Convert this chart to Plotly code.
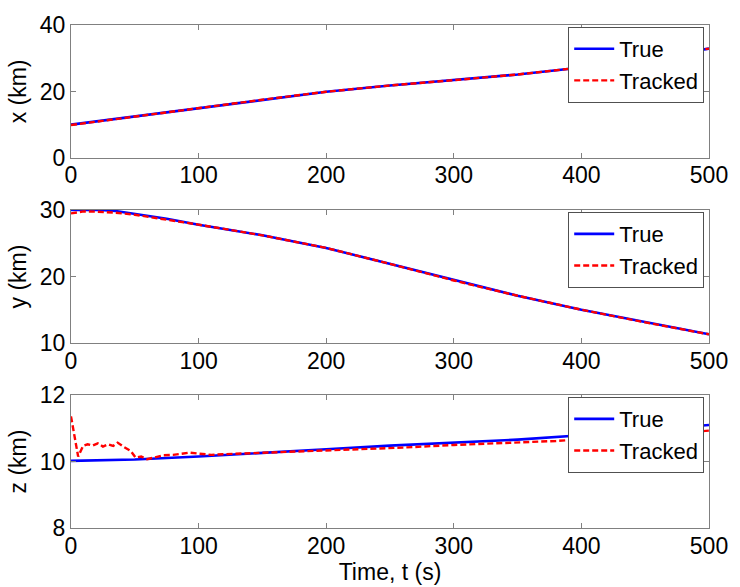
import plotly.graph_objects as go

# ---- data ----
t_x = [0, 50, 100, 150, 200, 250, 300, 350, 400, 450, 500]
x_true = [10.0, 12.5, 15.0, 17.5, 19.9, 21.8, 23.4, 25.1, 27.2, 29.9, 32.9]
x_tracked = [9.9, 12.5, 15.0, 17.5, 19.9, 21.8, 23.4, 25.1, 27.2, 29.9, 32.9]

t_y = [0, 10, 20, 35, 50, 75, 100, 150, 200, 250, 300, 350, 400, 450, 500]
y_true = [30.0, 30.05, 30.05, 29.85, 29.45, 28.7, 27.8, 26.2, 24.3, 21.9, 19.4, 17.1, 15.0, 13.1, 11.3]
y_tracked = [29.5, 29.8, 29.75, 29.6, 29.3, 28.6, 27.8, 26.2, 24.3, 21.9, 19.4, 17.1, 15.0, 13.1, 11.3]

t_zt = [0, 25, 50, 100, 150, 200, 250, 300, 350, 400, 450, 500]
z_true = [10.02, 10.03, 10.06, 10.15, 10.27, 10.37, 10.48, 10.57, 10.66, 10.79, 10.94, 11.1]

t_zk = [0, 5.6, 9.5, 13, 17, 21, 25, 29, 33, 36.5, 41, 46.8, 50.6, 55, 59.6, 65,
        72.5, 80, 87, 93, 100, 110, 118.8, 140, 170, 200, 230, 260, 300, 340,
        380, 420, 460, 500]
z_tracked = [11.36, 10.15, 10.47, 10.52, 10.48, 10.55, 10.45, 10.52, 10.47, 10.57,
             10.45, 10.32, 10.12, 10.15, 10.07, 10.12, 10.19, 10.2, 10.25, 10.27,
             10.24, 10.2, 10.22, 10.25, 10.3, 10.33, 10.38, 10.42, 10.5, 10.55,
             10.62, 10.72, 10.83, 10.93]

x_ticks = [0, 100, 200, 300, 400, 500]
panels = [
    dict(t1=t_x, v1=x_true, t2=t_x, v2=x_tracked, title="x (km)", rng=[0, 40], ticks=[0, 20, 40]),
    dict(t1=t_y, v1=y_true, t2=t_y, v2=y_tracked, title="y (km)", rng=[10, 30], ticks=[10, 20, 30]),
    dict(t1=t_zt, v1=z_true, t2=t_zk, v2=z_tracked, title="z (km)", rng=[8, 12], ticks=[8, 10, 12]),
]

W, H = 740, 587
ml, mr, mt, mb = 71, 21, 19, 57
ph = H - mt - mb
tops = [19, 207, 395]
bots = [154, 342, 530]
legend_tops = [21, 209, 397]

FS = 23
LFS = 22
FONT = "Liberation Sans, Arial, sans-serif"
fig = go.Figure()
layout = dict(
    width=W, height=H,
    margin=dict(l=ml, r=mr, t=mt, b=mb),
    paper_bgcolor="white", plot_bgcolor="white",
    font=dict(family=FONT, size=FS, color="black"),
)

for i, p in enumerate(panels):
    n = "" if i == 0 else str(i + 1)
    leg = "legend" if i == 0 else f"legend{i + 1}"
    fig.add_trace(go.Scatter(x=p["t1"], y=p["v1"], mode="lines", name="True",
                             line=dict(color="#0000ff", width=2.6),
                             xaxis="x" + n, yaxis="y" + n, legend=leg))
    fig.add_trace(go.Scatter(x=p["t2"], y=p["v2"], mode="lines", name="Tracked",
                             line=dict(color="#ff0000", width=2.4, dash="6px,3px"),
                             xaxis="x" + n, yaxis="y" + n, legend=leg))
    d0 = (H - mb - bots[i]) / ph
    d1 = (H - mb - tops[i]) / ph
    axcommon = dict(showline=True, linecolor="#808080", linewidth=1, mirror="ticks",
                    ticks="inside", ticklen=5, tickcolor="#808080", showgrid=False,
                    zeroline=False, tickfont=dict(size=FS, color="black"))
    layout["xaxis" + n] = dict(domain=[0, 1], anchor="y" + n, range=[0, 500],
                               tickvals=x_ticks, ticktext=[str(v) for v in x_ticks],
                               ticklabelstandoff=-3, **axcommon)
    layout["yaxis" + n] = dict(domain=[d0, d1], anchor="x" + n, range=p["rng"],
                               tickvals=p["ticks"], ticktext=[str(v) for v in p["ticks"]],
                               title=dict(text=p["title"], font=dict(size=FS), standoff=6),
                               **axcommon)
    layout[leg] = dict(x=(576 - ml) / (W - ml - mr), xanchor="left",
                       y=(H - mb - legend_tops[i]) / ph, yanchor="top",
                       bgcolor="white", bordercolor="#505050", borderwidth=1,
                       font=dict(size=LFS, color="black"), tracegroupgap=0,
                       itemwidth=40)

layout["xaxis3"]["title"] = dict(text="Time, t (s)", font=dict(size=FS), standoff=0)
fig.update_layout(**layout)
fig.write_html("out.html")
